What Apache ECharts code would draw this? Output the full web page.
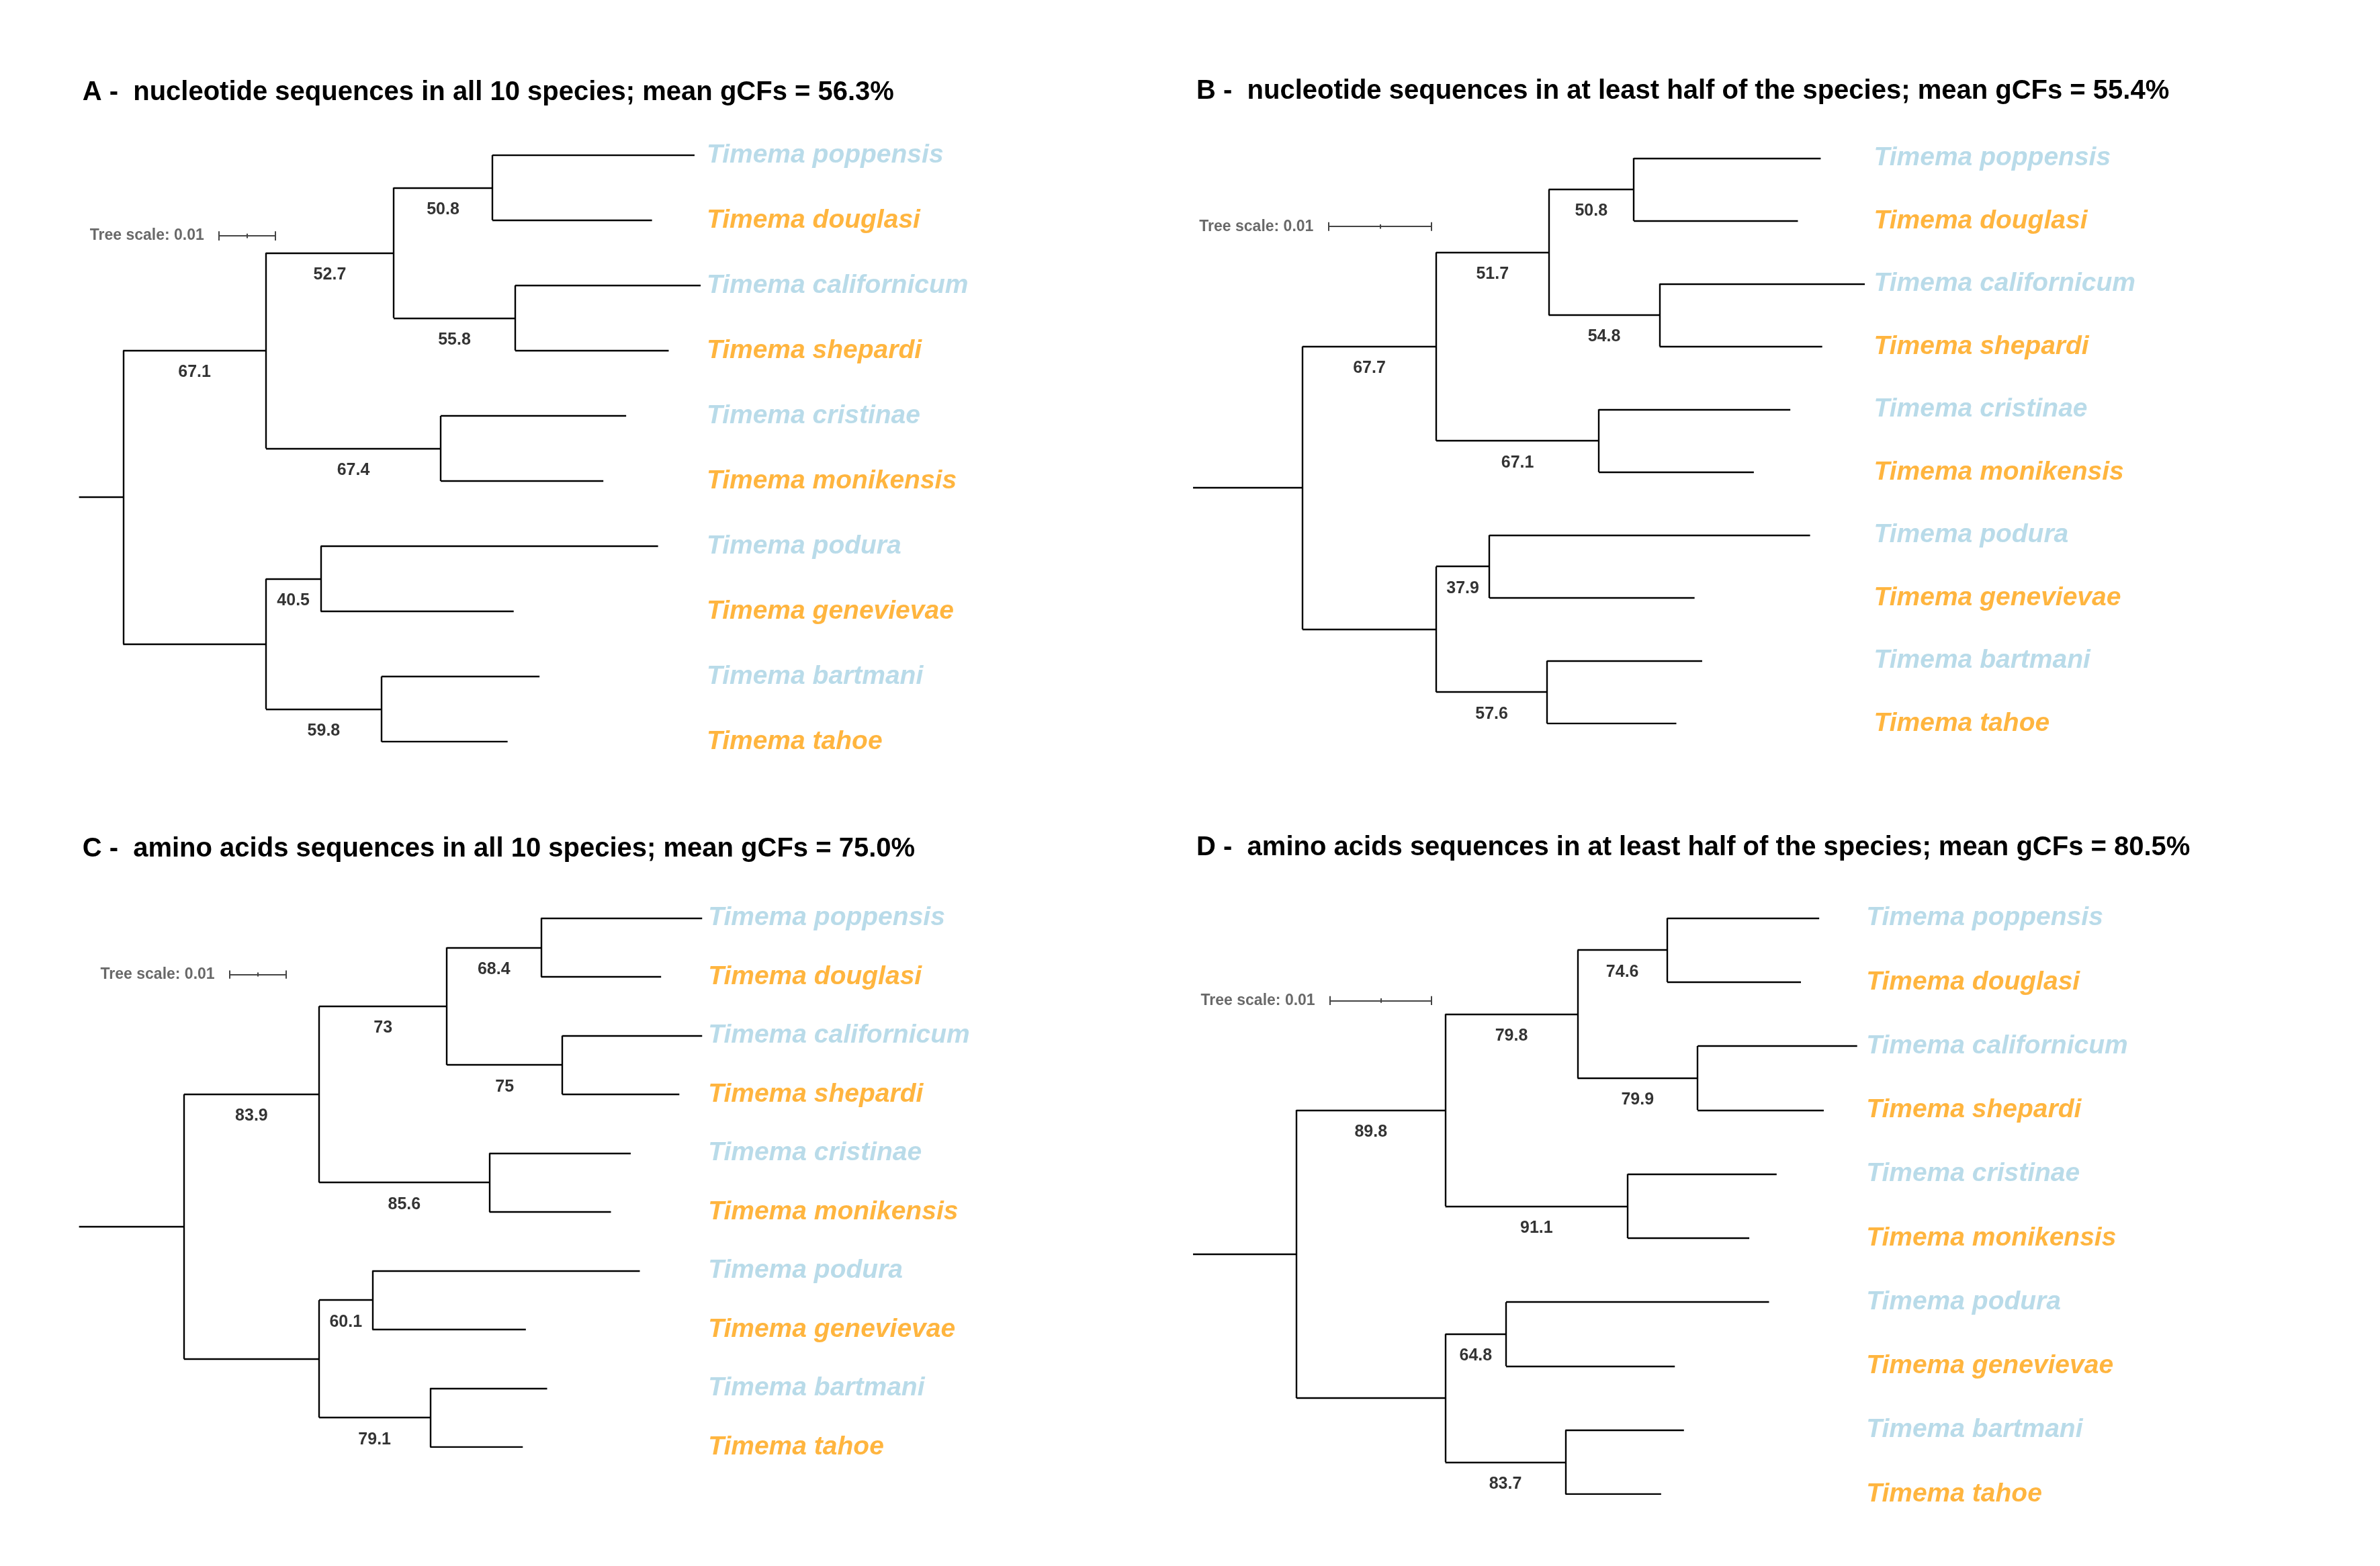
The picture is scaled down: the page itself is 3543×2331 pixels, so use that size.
<!DOCTYPE html>
<html>
<head>
<meta charset="utf-8">
<script src="https://cdn.jsdelivr.net/npm/echarts@6/dist/echarts.min.js"></script>
<style>
  html, body { margin: 0; padding: 0; background: #fff; }
  #chart { width: 3543px; height: 2331px; }
</style>
</head>
<body>
<div id="chart"></div>
<script>
// reference was read at ~1566px wide; S scales back up to the real canvas
var S = 3543 / 1566;

var species = ["Timema poppensis", "Timema douglasi", "Timema californicum", "Timema shepardi",
  "Timema cristinae", "Timema monikensis", "Timema podura", "Timema genevievae",
  "Timema bartmani", "Timema tahoe"];
var speciesColors = ["#a7d2e4", "#ffa30f"];

// topology: internal node name -> [child, child]; numbers are leaf rows
var topology = {
  root: ["n1", "n6"],
  n1: ["n2", "n5"], n2: ["n3", "n4"], n3: [0, 1], n4: [2, 3], n5: [4, 5],
  n6: ["n7", "n8"], n7: [6, 7], n8: [8, 9]
};
var gcfTargets = ["n1", "n2", "n3", "n4", "n5", "n7", "n8"];

var titles = [
  "A -  nucleotide sequences in all 10 species; mean gCFs = 56.3%",
  "B -  nucleotide sequences in at least half of the species; mean gCFs = 55.4%",
  "C -  amino acids sequences in all 10 species; mean gCFs = 75.0%",
  "D -  amino acids sequences in at least half of the species; mean gCFs = 80.5%"
];

// node depths (tree units, 1 unit = reference px) per panel
var nodeDepthA = { root: 29, n1: 123, n2: 207, n3: 272, n4: 287, n5: 238, n6: 123, n7: 159, n8: 199 };
var nodeDepthB = { root: 72, n1: 160, n2: 234, n3: 290, n4: 307, n5: 267, n6: 160, n7: 195, n8: 233 };
var nodeDepthC = { root: 69, n1: 158, n2: 242, n3: 304, n4: 318, n5: 270, n6: 158, n7: 193, n8: 231 };
var nodeDepthD = { root: 68, n1: 166, n2: 253, n3: 312, n4: 332, n5: 286, n6: 166, n7: 206, n8: 245 };

var tipDepthA = [405, 377, 409, 388, 360, 345, 381, 286, 303, 282];
var tipDepthB = [413, 398, 442, 414, 393, 369, 406, 330, 335, 318];
var tipDepthC = [410, 383, 410, 395, 363, 350, 369, 294, 308, 292];
var tipDepthD = [412, 400, 437, 415, 384, 366, 379, 317, 323, 308];

var gcfA = ["67.1", "52.7", "50.8", "55.8", "67.4", "40.5", "59.8"];
var gcfB = ["67.7", "51.7", "50.8", "54.8", "67.1", "37.9", "57.6"];
var gcfC = ["83.9", "73", "68.4", "75", "85.6", "60.1", "79.1"];
var gcfD = ["89.8", "79.8", "74.6", "79.9", "91.1", "64.8", "83.7"];

// tree scale bar: [start, end, row]
var scaleBarA = [92, 129, 1.24];
var scaleBarB = [89, 157, 1.09];
var scaleBarC = [99, 136, 0.96];
var scaleBarD = [90, 157, 1.29];

// panel placement in reference px: stub x, first leaf y, last leaf y, label x, title y
var panels = [
  { x0: 52, yTop: 102, yBot: 488, labelX: 465, titleY: 60, depth: nodeDepthA, tips: tipDepthA, gcf: gcfA, bar: scaleBarA },
  { x0: 785, yTop: 104, yBot: 476, labelX: 1233, titleY: 59, depth: nodeDepthB, tips: tipDepthB, gcf: gcfB, bar: scaleBarB },
  { x0: 52, yTop: 604, yBot: 952, labelX: 466, titleY: 558, depth: nodeDepthC, tips: tipDepthC, gcf: gcfC, bar: scaleBarC },
  { x0: 785, yTop: 604, yBot: 983, labelX: 1228, titleY: 557, depth: nodeDepthD, tips: tipDepthD, gcf: gcfD, bar: scaleBarD }
];

var font = "'Liberation Sans', Arial, sans-serif";
var grids = [], xAxes = [], yAxes = [], series = [], titleOpts = [];

panels.forEach(function (p, i) {
  var W = 700;
  grids.push({ left: p.x0 * S, top: p.yTop * S, width: W * S, height: (p.yBot - p.yTop) * S });
  xAxes.push({ gridIndex: i, type: "value", min: 0, max: W, show: false });
  yAxes.push({ gridIndex: i, type: "value", min: 0, max: 9, inverse: true, show: false });
  titleOpts.push({
    text: titles[i], left: p.x0 * S, top: p.titleY * S - 23,
    textStyle: { fontFamily: font, fontSize: 40, fontWeight: "bold", color: "#000" }
  });

  var pos = {}, segs = [];
  function place(n) {
    if (typeof n === "number") { pos[n] = { x: p.tips[n], y: n }; return pos[n]; }
    var a = place(topology[n][0]), b = place(topology[n][1]);
    pos[n] = { x: p.depth[n], y: (a.y + b.y) / 2 };
    segs.push([[pos[n].x, a.y], [pos[n].x, b.y]]);
    segs.push([[pos[n].x, a.y], [a.x, a.y]]);
    segs.push([[pos[n].x, b.y], [b.x, b.y]]);
    return pos[n];
  }
  var r = place("root");
  segs.push([[0, r.y], [r.x, r.y]]);

  // scale bar
  var b = p.bar, t = 0.07, mid = (b[0] + b[1]) / 2;
  var barSegs = [
    [[b[0], b[2]], [b[1], b[2]]],
    [[b[0], b[2] - t], [b[0], b[2] + t]],
    [[b[1], b[2] - t], [b[1], b[2] + t]],
    [[mid, b[2] - t / 2], [mid, b[2] + t / 2]]
  ];

  series.push({
    type: "lines", coordinateSystem: "cartesian2d", xAxisIndex: i, yAxisIndex: i,
    polyline: false, silent: true,
    lineStyle: { color: "#000", width: 2.4, opacity: 1 },
    data: segs.map(function (c) { return { coords: c }; })
  });
  series.push({
    type: "lines", coordinateSystem: "cartesian2d", xAxisIndex: i, yAxisIndex: i,
    silent: true, lineStyle: { color: "#444", width: 2, opacity: 1 },
    data: barSegs.map(function (c) { return { coords: c }; })
  });
  series.push({
    type: "scatter", xAxisIndex: i, yAxisIndex: i, symbolSize: 0, silent: true,
    data: [[b[0], b[2]]],
    label: { show: true, position: "left", distance: 22, formatter: "Tree scale: 0.01",
      fontFamily: font, fontSize: 23, fontWeight: "bold", color: "#444" }
  });

  // species labels
  series.push({
    type: "scatter", xAxisIndex: i, yAxisIndex: i, symbolSize: 0, silent: true,
    data: species.map(function (s, k) {
      return {
        value: [p.labelX - p.x0, k],
        label: { color: speciesColors[k % 2], formatter: s }
      };
    }),
    label: { show: true, position: "right", distance: 0,
      fontFamily: font, fontSize: 39, fontWeight: "bold", fontStyle: "italic" }
  });

  // gCF values, centred under the branch leading into each node
  series.push({
    type: "scatter", xAxisIndex: i, yAxisIndex: i, symbolSize: 0, silent: true,
    data: gcfTargets.map(function (n, k) {
      var parent = Object.keys(topology).filter(function (q) {
        return topology[q].indexOf(n) >= 0;
      })[0];
      return { value: [(pos[parent].x + pos[n].x) / 2, pos[n].y], label: { formatter: p.gcf[k] } };
    }),
    label: { show: true, position: "bottom", distance: 20,
      fontFamily: font, fontSize: 25, fontWeight: "bold", color: "#000" }
  });
});

var chart = echarts.init(document.getElementById("chart"));
chart.setOption({
  backgroundColor: "#fff",
  animation: false,
  title: titleOpts,
  grid: grids,
  xAxis: xAxes,
  yAxis: yAxes,
  series: series
});
</script>
</body>
</html>
